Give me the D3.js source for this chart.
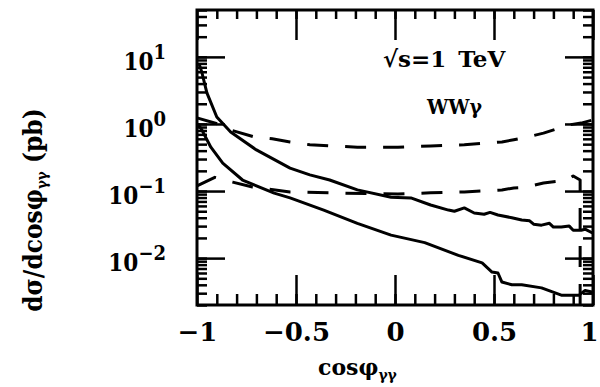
<!DOCTYPE html>
<html>

<head>
    <meta charset="utf-8">
    <style>
        body {
            margin: 0;
            background: white;
        }

        svg {
            overflow: visible;
            font-family: 'DejaVu Serif', serif;
            font-weight: bold;
        }

        .ticks .domain {
            display: none;
        }

        .ticks line {
            stroke: black;
            stroke-width: 2.5;
        }

        .xlab text {
            font-family: 'DejaVu Serif', serif;
            font-size: 26px;
            font-weight: bold;
            fill: black;
        }

        .cond {
            font-family: 'DejaVu Serif Condensed', 'DejaVu Serif', serif;
            font-stretch: condensed;
        }
    </style>
</head>

<body>
    <svg width="600" height="387"></svg>
</body>

<script src="https://d3js.org/d3.v7.min.js"></script>

<script>
    // upper solid curve
    let cosSolidHi = [-0.99, -0.975, -0.95, -0.90, -0.83, -0.70, -0.53, -0.43, -0.33, -0.19, -0.02, 0.08, 0.18, 0.27, 0.30, 0.35, 0.40, 0.45, 0.48, 0.52, 0.59, 0.64, 0.68, 0.70, 0.74, 0.78, 0.80, 0.84, 0.88, 0.90, 0.94, 0.96, 1.0]
    let valSolidHi = [8, 5.8, 2.9, 1.27, 0.76, 0.41, 0.22, 0.174, 0.146, 0.104, 0.081, 0.079, 0.062, 0.052, 0.050, 0.056, 0.047, 0.045, 0.048, 0.044, 0.040, 0.037, 0.036, 0.032, 0.031, 0.033, 0.029, 0.029, 0.030, 0.026, 0.026, 0.027, 0.0235]

    // lower solid curve
    let cosSolidLo = [-0.995, -0.975, -0.93, -0.87, -0.77, -0.61, -0.53, -0.36, -0.19, -0.02, 0.15, 0.32, 0.44, 0.49, 0.52, 0.54, 0.59, 0.64, 0.74, 0.84, 0.93, 0.96, 1.0]
    let valSolidLo = [1.0, 0.81, 0.45, 0.26, 0.146, 0.093, 0.079, 0.052, 0.033, 0.022, 0.017, 0.011, 0.0085, 0.0062, 0.006, 0.0044, 0.0040, 0.0040, 0.0036, 0.0028, 0.0028, 0.0033, 0.0031]

    // upper dashed curve
    let cosDashHi = [-1, -0.88, -0.83, -0.71, -0.62, -0.53, -0.43, -0.19, 0.015, 0.18, 0.35, 0.54, 0.60, 0.65, 0.75, 0.88, 0.94, 1.0]
    let valDashHi = [1.23, 0.97, 0.81, 0.64, 0.60, 0.54, 0.49, 0.45, 0.45, 0.47, 0.49, 0.54, 0.58, 0.62, 0.73, 0.97, 1.03, 1.15]

    // lower dashed curve (last bin drops to the floor)
    let cosDashLo = [-1, -0.91, -0.82, -0.72, -0.53, -0.33, 0.015, 0.18, 0.35, 0.54, 0.60, 0.65, 0.75, 0.87, 0.90, 0.935, 0.935]
    let valDashLo = [0.119, 0.16, 0.136, 0.115, 0.097, 0.094, 0.090, 0.094, 0.097, 0.104, 0.111, 0.113, 0.132, 0.146, 0.168, 0.146, 0.002]

    let xMajor = [-1, -0.5, 0, 0.5, 1]
    let xLabels = ["\u22121", "\u22120.5", "0", "0.5", "1"]
    let yExps = [1, 0, -1, -2]
    let yExpLabels = ["1", "0", "\u22121", "\u22122"]

    let svg = d3.select("svg")
    let margin = { top: 10, right: 7, bottom: 82, left: 197 }
    let width = 600
    let height = 387

    let x = d3.scaleLinear().domain([-1, 1]).range([margin.left, width - margin.right])
    let y = d3.scaleLog().domain([0.002, 50]).range([height - margin.bottom, margin.top])

    let xMinor = d3.range(-9, 10).map(d => d / 10)
    let yMinor = y.ticks()
    let yMajor = yExps.map(e => Math.pow(10, e))

    let line = d3.line()
        .x(d => x(d[0]))
        .y(d => y(Math.max(d[1], 0.002)))

    // curves
    let series = [
        { xs: cosSolidHi, ys: valSolidHi, dash: null },
        { xs: cosSolidLo, ys: valSolidLo, dash: null },
        { xs: cosDashHi, ys: valDashHi, dash: "21,17" },
        { xs: cosDashLo, ys: valDashLo, dash: "21,17" }
    ]

    svg.append("g")
        .selectAll("path")
        .data(series)
        .join("path")
        .attr("d", d => line(d3.zip(d.xs, d.ys)))
        .attr("fill", "none")
        .attr("stroke", "black")
        .attr("stroke-width", 3)
        .attr("stroke-linejoin", "round")
        .attr("stroke-dasharray", d => d.dash)

    // ticks, all pointing inward
    let bottom = height - margin.bottom
    let right = width - margin.right

    svg.append("g").attr("class", "ticks")
        .attr("transform", `translate(0,${bottom})`)
        .call(d3.axisBottom(x).tickValues(xMinor).tickSize(-11).tickFormat(""))
    svg.append("g").attr("class", "ticks")
        .attr("transform", `translate(0,${bottom})`)
        .call(d3.axisBottom(x).tickValues(xMajor).tickSize(-30).tickFormat(""))
    svg.append("g").attr("class", "ticks")
        .attr("transform", `translate(0,${margin.top})`)
        .call(d3.axisTop(x).tickValues(xMinor).tickSize(-9).tickFormat(""))
    svg.append("g").attr("class", "ticks")
        .attr("transform", `translate(0,${margin.top})`)
        .call(d3.axisTop(x).tickValues(xMajor).tickSize(-30).tickFormat(""))

    svg.append("g").attr("class", "ticks")
        .attr("transform", `translate(${margin.left},0)`)
        .call(d3.axisLeft(y).tickValues(yMinor).tickSize(-10).tickFormat(""))
    svg.append("g").attr("class", "ticks")
        .attr("transform", `translate(${margin.left},0)`)
        .call(d3.axisLeft(y).tickValues(yMajor).tickSize(-28).tickFormat(""))
    svg.append("g").attr("class", "ticks")
        .attr("transform", `translate(${right},0)`)
        .call(d3.axisRight(y).tickValues(yMinor).tickSize(-10).tickFormat(""))
    svg.append("g").attr("class", "ticks")
        .attr("transform", `translate(${right},0)`)
        .call(d3.axisRight(y).tickValues(yMajor).tickSize(-28).tickFormat(""))

    // frame
    svg.append("rect")
        .attr("x", margin.left)
        .attr("y", margin.top)
        .attr("width", right - margin.left)
        .attr("height", bottom - margin.top)
        .attr("fill", "none")
        .attr("stroke", "black")
        .attr("stroke-width", 3)

    // x tick labels
    let xlab = svg.append("g").attr("class", "ticks xlab")
        .attr("transform", `translate(0,${bottom})`)
        .call(d3.axisBottom(x).tickValues(xMajor).tickSize(0).tickPadding(18)
            .tickFormat((d, i) => xLabels[i]))
    xlab.selectAll("text")
        .attr("font-family", null)
        .attr("text-anchor", d => d == 1 ? "end" : "middle")
        .attr("dx", d => d == 1 ? 5 : 0)

    // y tick labels as 10^n
    let ylab = svg.append("g")
        .selectAll("text")
        .data(yExps)
        .join("text")
        .attr("class", "cond")
        .attr("x", 166)
        .attr("y", d => y(Math.pow(10, d)) + 13)
        .attr("text-anchor", "end")
        .attr("font-size", 24)

    ylab.append("tspan").text("10")
    ylab.append("tspan")
        .attr("font-size", 20)
        .attr("dy", -11)
        .text((d, i) => yExpLabels[i])

    // annotations
    svg.append("text")
        .attr("x", 383)
        .attr("y", 67)
        .attr("font-size", 23)
        .attr("word-spacing", 4)
        .text("\u221As=1 TeV")

    svg.append("text")
        .attr("class", "cond")
        .attr("x", 427)
        .attr("y", 114)
        .attr("font-size", 21)
        .text("WW\u03B3")

    // axis titles
    let xt = svg.append("text")
        .attr("x", 318)
        .attr("y", 375)
        .attr("font-size", 22)
    xt.append("tspan").text("cos\u03C6")
    xt.append("tspan").attr("font-size", 14).attr("dy", 5).text("\u03B3\u03B3")

    let yt = svg.append("text")
        .attr("class", "cond")
        .attr("transform", "translate(42,210) rotate(-90)")
        .attr("text-anchor", "middle")
        .attr("font-size", 26)
    yt.append("tspan").text("d\u03C3/dcos\u03C6")
    yt.append("tspan").attr("font-size", 15).attr("dy", 5).text("\u03B3\u03B3")
    yt.append("tspan").attr("dy", -5).text(" (pb)")
</script>

</html>
